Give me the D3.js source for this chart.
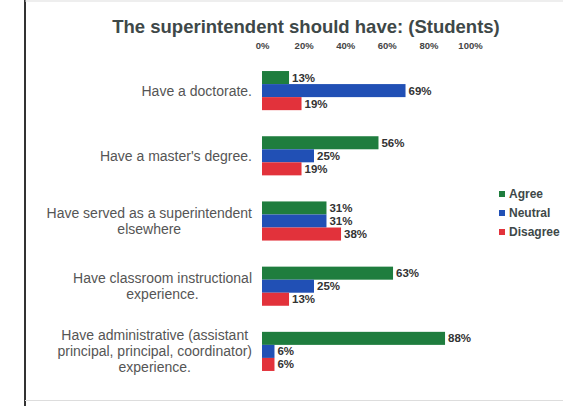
<!DOCTYPE html>
<html><head><meta charset="utf-8">
<script src="https://cdn.jsdelivr.net/npm/d3@7"></script>
<style>html,body{margin:0;padding:0;background:#fff;}svg{display:block;}</style>
</head><body>
<svg id="c" width="563" height="406"></svg>
<script>
const categories = [
  ["Have a doctorate."],
  ["Have a master's degree."],
  ["Have served as a superintendent", "elsewhere"],
  ["Have classroom instructional", "experience."],
  ["Have administrative (assistant", "principal, principal, coordinator)", "experience."]
];
const seriesNames = ["Agree", "Neutral", "Disagree"];
const agree = [13, 56, 31, 63, 88];
const neutral = [69, 25, 31, 25, 6];
const disagree = [19, 19, 38, 13, 6];
const tickValues = [0, 20, 40, 60, 80, 100];
const colors = ["#1f7d3e", "#2150b5", "#e2323b"];

const svg = d3.select("#c");
const font = "'Liberation Sans', Arial, sans-serif";

// frame
svg.append("line").attr("x1",25).attr("x2",25).attr("y1",0).attr("y2",406).attr("stroke","#333").attr("stroke-width",2);
svg.append("line").attr("x1",25).attr("x2",563).attr("y1",1).attr("y2",1).attr("stroke","#ddd").attr("stroke-width",1);
svg.append("line").attr("x1",25).attr("x2",563).attr("y1",400.5).attr("y2",400.5).attr("stroke","#ddd").attr("stroke-width",1);

svg.append("text").attr("x",306).attr("y",33).attr("text-anchor","middle")
  .attr("font-family",font).attr("font-weight","bold").attr("font-size",18.5).attr("fill","#3e4848")
  .text("The superintendent should have: (Students)");

const x = d3.scaleLinear().domain([0,100]).range([262,470]);
const idx = d3.range(categories.length);
const y = d3.scaleBand().domain(idx).range([58,384]).paddingInner(0.4).paddingOuter(0.2);
const sub = d3.scaleBand().domain(d3.range(3)).range([0, y.bandwidth()]);

const axis = d3.axisTop(x).tickValues(tickValues).tickFormat(d => d + "%").tickSize(0);
const ag = svg.append("g").attr("transform","translate(0,52)").call(axis);
ag.select(".domain").remove();
ag.selectAll("text").attr("font-family",font).attr("font-weight","bold").attr("font-size",9.5).attr("fill","#444");

const series = [agree, neutral, disagree];
series.forEach((vals, s) => {
  const g = svg.append("g");
  g.selectAll("rect").data(vals).join("rect")
    .attr("x", x(0))
    .attr("y", (d,i) => y(i) + sub(s))
    .attr("width", d => x(d) - x(0))
    .attr("height", sub.bandwidth())
    .attr("fill", colors[s]);
  g.selectAll("text").data(vals).join("text")
    .attr("x", d => x(d) + 3)
    .attr("y", (d,i) => y(i) + sub(s) + sub.bandwidth()/2 + 4)
    .attr("font-family",font).attr("font-weight","bold").attr("font-size",11.5).attr("fill","#333")
    .text(d => d + "%");
});

// category labels: lines centered in block, block right aligned
const lh = 16;
categories.forEach((lines, i) => {
  const cy = y(i) + y.bandwidth()/2;
  const g = svg.append("g");
  const ts = lines.map((l, k) => g.append("text")
    .attr("y", cy + (k - (lines.length-1)/2)*lh + 5)
    .attr("font-family",font).attr("font-size",14).attr("fill","#555").text(l));
  const widths = ts.map(t => t.node().getComputedTextLength());
  const w = d3.max(widths);
  const right = 252;
  ts.forEach(t => t.attr("x", right - w/2).attr("text-anchor","middle"));
});

// legend
seriesNames.forEach((n, s) => {
  const ly = 194 + s*19;
  svg.append("rect").attr("x",499).attr("y",ly-3).attr("width",6).attr("height",6).attr("fill",colors[s]);
  svg.append("text").attr("x",509).attr("y",ly+4).attr("font-family",font).attr("font-weight","bold")
    .attr("font-size",12).attr("fill","#3e4848").text(n);
});
</script>
</body></html>
